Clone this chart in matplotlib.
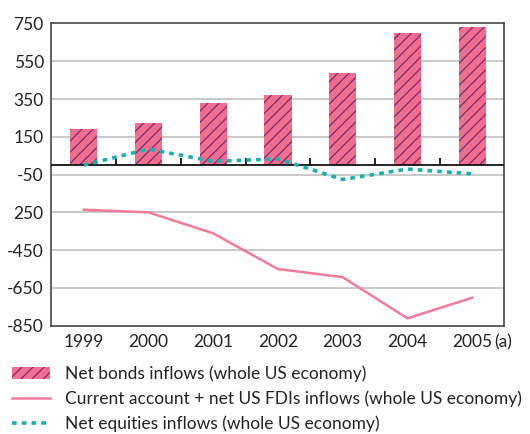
import matplotlib
matplotlib.use("Agg")
from matplotlib import pyplot as plt
from matplotlib.patches import Patch
from matplotlib.lines import Line2D

# data
years = ["1999", "2000", "2001", "2002", "2003", "2004", "2005"]
bonds = [192, 222, 328, 370, 487, 698, 730]
current_fdi = [-236, -250, -361, -550, -593, -811, -702]
equities = [0, 85, 20, 33, -76, -21, -46]

y_ticks = [750, 550, 350, 150, -50, -250, -450, -650, -850]
y_labels = ["750", "550", "350", "150", "-50", "250", "-450", "-650", "-850"]

PINK = "#f06e8e"
PINK_LINE = "#f27a9a"
HATCH = "#7b2a72"
TEAL = "#17b0ae"
DARK = "#222222"
FS = 12.5

plt.rcParams['font.family'] = ['Lato', 'DejaVu Sans']
plt.rcParams['hatch.linewidth'] = 0.9

fig = plt.figure(figsize=(5.3, 4.34), dpi=100)
ax = fig.add_axes([0.0957, 0.2495, 0.855, 0.6965])

x = list(range(len(years)))

for v in y_ticks[1:-1]:
	ax.axhline(v, color="#c8c8c8", lw=1.4, zorder=0)

ax.bar(x, bonds, width=0.42, color=PINK, edgecolor=HATCH, hatch="///", lw=0, zorder=2)
ax.axhline(0, color="#111111", lw=1.3, zorder=3)
# small upward ticks between categories on the zero line
ax.vlines([i + 0.5 for i in x[:-1]], 0, 36, color="#111111", lw=1.3, zorder=3)

ax.plot(x, current_fdi, color=PINK_LINE, lw=1.8, zorder=4)
ax.plot(x, equities, color=TEAL, lw=2.6, dashes=(1.3, 1.4), zorder=4)

ax.set_xlim(-0.51, 6.49)
ax.set_ylim(-850, 750)
ax.set_yticks(y_ticks)
ax.set_yticklabels(y_labels)
ax.set_xticks(x)
ax.set_xticklabels(years)
ax.tick_params(axis="both", length=0, labelsize=FS, colors=DARK)
ax.tick_params(axis="y", pad=5)
ax.tick_params(axis="x", pad=6)
ax.annotate("(a)", xy=(6, 0), xycoords=("data", "axes fraction"),
			xytext=(16, -6), textcoords="offset points",
			ha="left", va="top", fontsize=FS, color=DARK)

for s in ax.spines.values():
	s.set_color("#444444")
	s.set_linewidth(1.2)

handles = [
	Patch(facecolor=PINK, edgecolor=HATCH, hatch="///", lw=0),
	Line2D([], [], color=PINK_LINE, lw=1.8),
	Line2D([], [], color=TEAL, lw=2.6, dashes=(1.3, 1.4)),
]
labels = [
	"Net bonds inflows (whole US economy)",
	"Current account + net US FDIs inflows (whole US economy)",
	"Net equities inflows (whole US economy)",
]
fig.legend(handles, labels, loc="upper left", bbox_to_anchor=(0.022, 0.158),
		   frameon=False, fontsize=FS, handlelength=2.2, handletextpad=0.9,
		   labelspacing=0.5, borderaxespad=0, borderpad=0, labelcolor=DARK)

fig.savefig("out.png", dpi=100)
